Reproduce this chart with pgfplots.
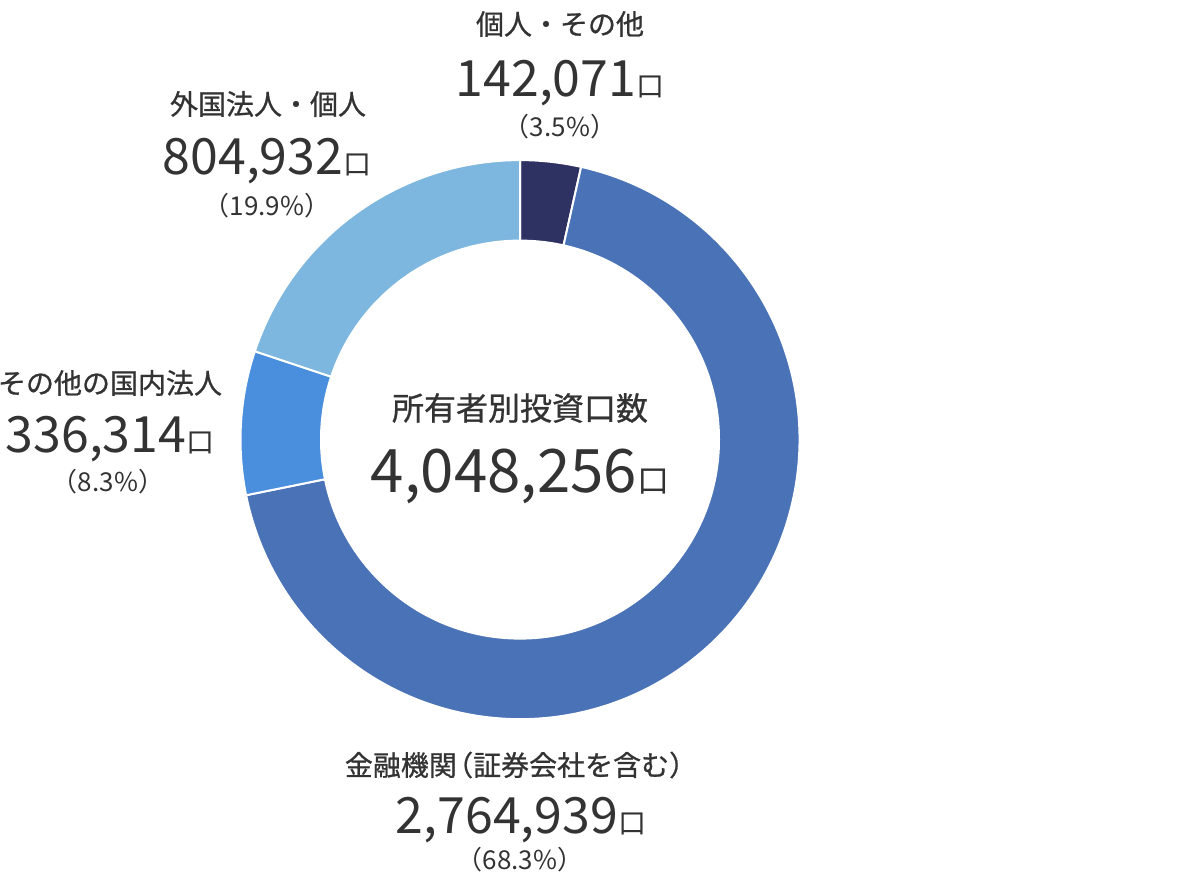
\documentclass[border=0pt]{standalone}
\usepackage{pgfplots}
\pgfplotsset{compat=1.18}
\usepackage{pgfplotstable}
\usepackage{fontspec}
\setmainfont{Noto Sans CJK JP}
\newfontfamily\jplab[FakeBold=0.8]{Noto Sans CJK JP}
\definecolor{cNavy}{HTML}{2D3263}
\definecolor{cMain}{HTML}{4A72B6}
\definecolor{cMid}{HTML}{4A8FDE}
\definecolor{cLight}{HTML}{7DB7DF}
\definecolor{txt}{HTML}{333333}

\pgfplotstableread{
value
142071
2764939
336314
804932
}\slices
\pgfplotstablegetelem{0}{value}\of\slices \edef\vA{\pgfplotsretval}
\pgfplotstablegetelem{1}{value}\of\slices \edef\vB{\pgfplotsretval}
\pgfplotstablegetelem{2}{value}\of\slices \edef\vC{\pgfplotsretval}
\pgfplotstablegetelem{3}{value}\of\slices \edef\vD{\pgfplotsretval}
\edef\total{\fpeval{\vA+\vB+\vC+\vD}}
\edef\aA{\fpeval{90-360*\vA/\total}}
\edef\aB{\fpeval{\aA-360*\vB/\total}}
\edef\aC{\fpeval{\aB-360*\vC/\total}}
\edef\aD{\fpeval{\aC-360*\vD/\total}}
\def\R{139.75pt}

\begin{document}%
\begin{tikzpicture}
\begin{axis}[name=ax, hide axis, scale only axis, x=0.5pt, y=0.5pt,
  xmin=0, xmax=1200, ymin=0, ymax=880, clip=false]
\coordinate (bl) at (axis cs:0,0);
\coordinate (tr) at (axis cs:1200,880);
\filldraw[fill=cNavy, draw=white, line width=1pt] (axis cs:520,440.4) -- ++(90:\R) arc[start angle=90, end angle=\aA, radius=\R] -- cycle;
\filldraw[fill=cMain, draw=white, line width=1pt] (axis cs:520,440.4) -- ++(\aA:\R) arc[start angle=\aA, end angle=\aB, radius=\R] -- cycle;
\filldraw[fill=cMid, draw=white, line width=1pt] (axis cs:520,440.4) -- ++(\aB:\R) arc[start angle=\aB, end angle=\aC, radius=\R] -- cycle;
\filldraw[fill=cLight, draw=white, line width=1pt] (axis cs:520,440.4) -- ++(\aC:\R) arc[start angle=\aC, end angle=\aD, radius=\R] -- cycle;
\fill[white] (axis cs:520,440.4) circle[radius=100pt];

% top
\node[txt, anchor=center, inner sep=0pt, font=\jplab\fontsize{14pt}{14pt}\selectfont] at (axis cs:560,856) {個人・その他};
\node[txt, anchor=base, inner sep=0pt] at (axis cs:560,783) {\fontsize{25pt}{25pt}\selectfont 142,071\fontsize{14pt}{14pt}\selectfont 口};
\node[txt, anchor=center, inner sep=0pt, font=\fontsize{13pt}{13pt}\selectfont] at (axis cs:560,753) {（3.5\%）};
% foreign
\node[txt, anchor=center, inner sep=0pt, font=\jplab\fontsize{14pt}{14pt}\selectfont] at (axis cs:268,776) {外国法人・個人};
\node[txt, anchor=base, inner sep=0pt] at (axis cs:267,705) {\fontsize{25pt}{25pt}\selectfont 804,932\fontsize{14pt}{14pt}\selectfont 口};
\node[txt, anchor=center, inner sep=0pt, font=\fontsize{13pt}{13pt}\selectfont] at (axis cs:267,674) {（19.9\%）};
% domestic
\node[txt, anchor=center, inner sep=0pt, font=\jplab\fontsize{14pt}{14pt}\selectfont] at (axis cs:110,497) {その他の国内法人};
\node[txt, anchor=base, inner sep=0pt] at (axis cs:110,428) {\fontsize{25pt}{25pt}\selectfont 336,314\fontsize{14pt}{14pt}\selectfont 口};
\node[txt, anchor=center, inner sep=0pt, font=\fontsize{13pt}{13pt}\selectfont] at (axis cs:108,398) {（8.3\%）};
% financial
\node[txt, anchor=center, inner sep=0pt, font=\jplab\fontsize{14pt}{14pt}\selectfont] at (axis cs:521,115) {金融機関\kern-0.42em（証券会社を含む）};
\node[txt, anchor=base, inner sep=0pt] at (axis cs:521,47) {\fontsize{25pt}{25pt}\selectfont 2,764,939\fontsize{14pt}{14pt}\selectfont 口};
\node[txt, anchor=center, inner sep=0pt, font=\fontsize{13pt}{13pt}\selectfont] at (axis cs:520,20) {（68.3\%）};
% centre
\node[txt, anchor=center, inner sep=0pt, font=\jplab\fontsize{16pt}{16pt}\selectfont] at (axis cs:520,472) {所有者別投資口数};
\node[txt, anchor=base, inner sep=0pt] at (axis cs:520,388) {\fontsize{30pt}{30pt}\selectfont 4,048,256\fontsize{16pt}{16pt}\selectfont 口};
\end{axis}
\pgfresetboundingbox
\path (bl) rectangle (tr);
\end{tikzpicture}%
\end{document}
